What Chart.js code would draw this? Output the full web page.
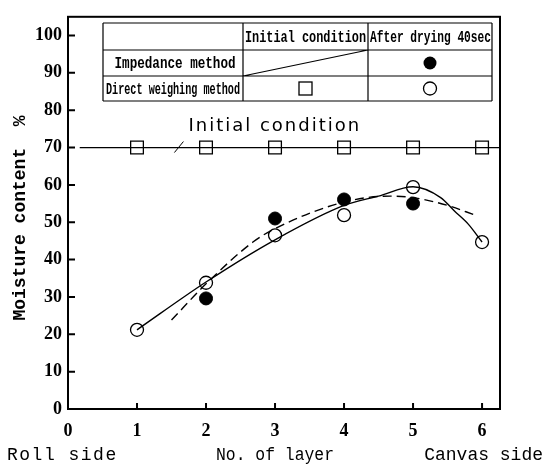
<!DOCTYPE html>
<html>
<head>
<meta charset="utf-8">
<script src="https://cdn.jsdelivr.net/npm/chart.js@4.4.1/dist/chart.umd.min.js"></script>
<style>
  html, body { margin: 0; padding: 0; background: #fff; }
  canvas { display: block; }
</style>
</head>
<body>
<canvas id="chart" width="544" height="466"></canvas>
<script>
// axis ticks
const xTicks = [0, 1, 2, 3, 4, 5, 6];
const yTicks = [0, 10, 20, 30, 40, 50, 60, 70, 80, 90, 100];

// measured points (moisture content %)
const layers = [1, 2, 3, 4, 5, 6];
const initialCondition = [70, 70, 70, 70, 70, 70];
const initialLineX = [0.17, 6.26];
const weighingAfter = [21.2, 33.8, 46.5, 51.9, 59.4, 44.7];
const impedanceLayers = [2, 3, 4, 5];
const impedanceAfter = [29.6, 51, 56.1, 55];

// hand drawn fit curves
const solidCurveX = [1, 2, 3, 4, 4.5, 5, 5.4, 5.6, 5.8, 6];
const solidCurveY = [21.2, 34, 45.3, 54.5, 57, 59.5, 56.6, 53, 49.5, 44.7];
const dashCurveX = [1.5, 2, 2.68, 3, 4, 4.67, 5, 5.5, 5.9];
const dashCurveY = [23.8, 33.5, 44.7, 48.3, 55.4, 57, 56.6, 54.5, 51.9];

const xyPairs = (xs, ys) => xs.map((x, i) => ({ x: x, y: ys[i] }));

const monoFont = '"Liberation Mono", monospace';
const digitFont = '"Liberation Serif", serif';

const decor = {
  id: 'decor',
  afterDraw(chart) {
    const ctx = chart.ctx;
    const area = chart.chartArea;
    const xs = chart.scales.x;
    const ys = chart.scales.y;
    ctx.save();
    ctx.strokeStyle = '#000';
    ctx.fillStyle = '#000';

    // frame
    ctx.lineWidth = 2;
    ctx.strokeRect(area.left, area.top, area.right - area.left, area.bottom - area.top);

    // inward tick marks
    ctx.beginPath();
    yTicks.forEach((v) => {
      const py = ys.getPixelForValue(v);
      ctx.moveTo(area.left, py);
      ctx.lineTo(area.left + 7, py);
    });
    xTicks.forEach((v) => {
      const px = xs.getPixelForValue(v);
      ctx.moveTo(px, area.bottom);
      ctx.lineTo(px, area.bottom - 6);
    });
    ctx.stroke();

    // axis captions
    ctx.font = '18px ' + monoFont;
    ctx.textBaseline = 'middle';
    ctx.textAlign = 'left';
    ctx.letterSpacing = '1.5px';
    ctx.fillText('Roll side', 7, 455);
    ctx.letterSpacing = '0px';
    ctx.textAlign = 'center';
    ctx.fillText('No. of layer', 275, 455, 118);
    ctx.textAlign = 'right';
    ctx.fillText('Canvas side', 543, 455);

    ctx.save();
    ctx.translate(20, 218);
    ctx.rotate(-Math.PI / 2);
    ctx.textAlign = 'center';
    ctx.font = 'bold 18px ' + monoFont;
    ctx.fillText('Moisture content  %', 0, 0);
    ctx.restore();

    // "Initial condition" label with leader
    const lx = xs.getPixelForValue(1.6);
    const ly = ys.getPixelForValue(70);
    ctx.lineWidth = 1;
    ctx.beginPath();
    ctx.moveTo(lx - 4, ly + 5);
    ctx.lineTo(lx + 5, ly - 6);
    ctx.stroke();
    ctx.font = '18px "DejaVu Sans", sans-serif';
    ctx.textAlign = 'left';
    ctx.letterSpacing = '2px';
    ctx.fillText('Initial condition', lx + 10, ly - 21);
    ctx.letterSpacing = '0px';

    // legend table
    const cols = [103, 243, 368, 492];
    const rows = [23, 50, 76, 101];
    ctx.lineWidth = 1.2;
    ctx.fillStyle = '#fff';
    ctx.fillRect(cols[0], rows[0], cols[3] - cols[0], rows[3] - rows[0]);
    ctx.fillStyle = '#000';
    ctx.beginPath();
    cols.forEach((c) => { ctx.moveTo(c, rows[0]); ctx.lineTo(c, rows[3]); });
    rows.forEach((r) => { ctx.moveTo(cols[0], r); ctx.lineTo(cols[3], r); });
    ctx.moveTo(cols[1], rows[2]);
    ctx.lineTo(cols[2], rows[1]);
    ctx.stroke();

    ctx.font = 'bold 16px ' + monoFont;
    ctx.textAlign = 'left';
    const rowMid = (i) => (rows[i] + rows[i + 1]) / 2 + 1;
    ctx.fillText('Initial condition', cols[1] + 2, rowMid(0), cols[2] - cols[1] - 4);
    ctx.fillText('After drying 40sec', cols[2] + 2, rowMid(0), cols[3] - cols[2] - 3);
    ctx.textAlign = 'center';
    ctx.fillText('Impedance method', (cols[0] + cols[1]) / 2 + 2, rowMid(1), 121);
    ctx.fillText('Direct weighing method', (cols[0] + cols[1]) / 2, rowMid(2), 134);

    const c2 = (cols[1] + cols[2]) / 2;
    const c3 = (cols[2] + cols[3]) / 2;
    ctx.beginPath();
    ctx.arc(c3, rowMid(1) - 1, 6.5, 0, Math.PI * 2);
    ctx.fill();
    ctx.lineWidth = 1.3;
    ctx.beginPath();
    ctx.arc(c3, rowMid(2) - 1, 6.5, 0, Math.PI * 2);
    ctx.stroke();
    ctx.strokeRect(c2 - 6.5, rowMid(2) - 7.5, 13, 13);

    ctx.restore();
  }
};

new Chart(document.getElementById('chart'), {
  type: 'scatter',
  data: {
    datasets: [
      {
        data: xyPairs(initialLineX, [70, 70]),
        showLine: true,
        borderColor: '#000',
        borderWidth: 1.2,
        pointRadius: 0
      },
      {
        data: xyPairs(solidCurveX, solidCurveY),
        showLine: true,
        cubicInterpolationMode: 'monotone',
        borderColor: '#000',
        borderWidth: 1.4,
        pointRadius: 0
      },
      {
        data: xyPairs(dashCurveX, dashCurveY),
        showLine: true,
        cubicInterpolationMode: 'monotone',
        borderColor: '#000',
        borderWidth: 1.4,
        borderDash: [9, 5],
        pointRadius: 0
      },
      {
        data: xyPairs(layers, initialCondition),
        pointStyle: 'rect',
        pointRadius: 9,
        pointBackgroundColor: '#fff',
        pointBorderColor: '#000',
        pointBorderWidth: 1.3
      },
      {
        data: xyPairs(impedanceLayers, impedanceAfter),
        pointStyle: 'circle',
        pointRadius: 6.5,
        pointBackgroundColor: '#000',
        pointBorderColor: '#000',
        pointBorderWidth: 1
      },
      {
        data: xyPairs(layers, weighingAfter),
        pointStyle: 'circle',
        pointRadius: 6.5,
        pointBackgroundColor: '#fff',
        pointBorderColor: '#000',
        pointBorderWidth: 1.3
      }
    ]
  },
  options: {
    responsive: false,
    animation: false,
    layout: { padding: { top: 12, right: 44, left: 0, bottom: 0 } },
    plugins: { legend: { display: false }, tooltip: { enabled: false } },
    scales: {
      x: {
        type: 'linear',
        min: 0,
        max: 6.26,
        afterBuildTicks: (scale) => { scale.ticks = xTicks.map((v) => ({ value: v })); },
        afterFit: (scale) => { scale.height = 57; },
        grid: { display: false, drawTicks: false },
        border: { display: false },
        ticks: { color: '#000', padding: 12, maxRotation: 0, font: { family: digitFont, size: 18, weight: 'bold' } }
      },
      y: {
        type: 'linear',
        min: 0,
        max: 105,
        afterBuildTicks: (scale) => { scale.ticks = yTicks.map((v) => ({ value: v })); },
        afterFit: (scale) => { scale.width = 68; },
        grid: { display: false, drawTicks: false },
        border: { display: false },
        ticks: { color: '#000', padding: 6, font: { family: digitFont, size: 18, weight: 'bold' } }
      }
    }
  },
  plugins: [decor]
});
</script>
</body>
</html>
